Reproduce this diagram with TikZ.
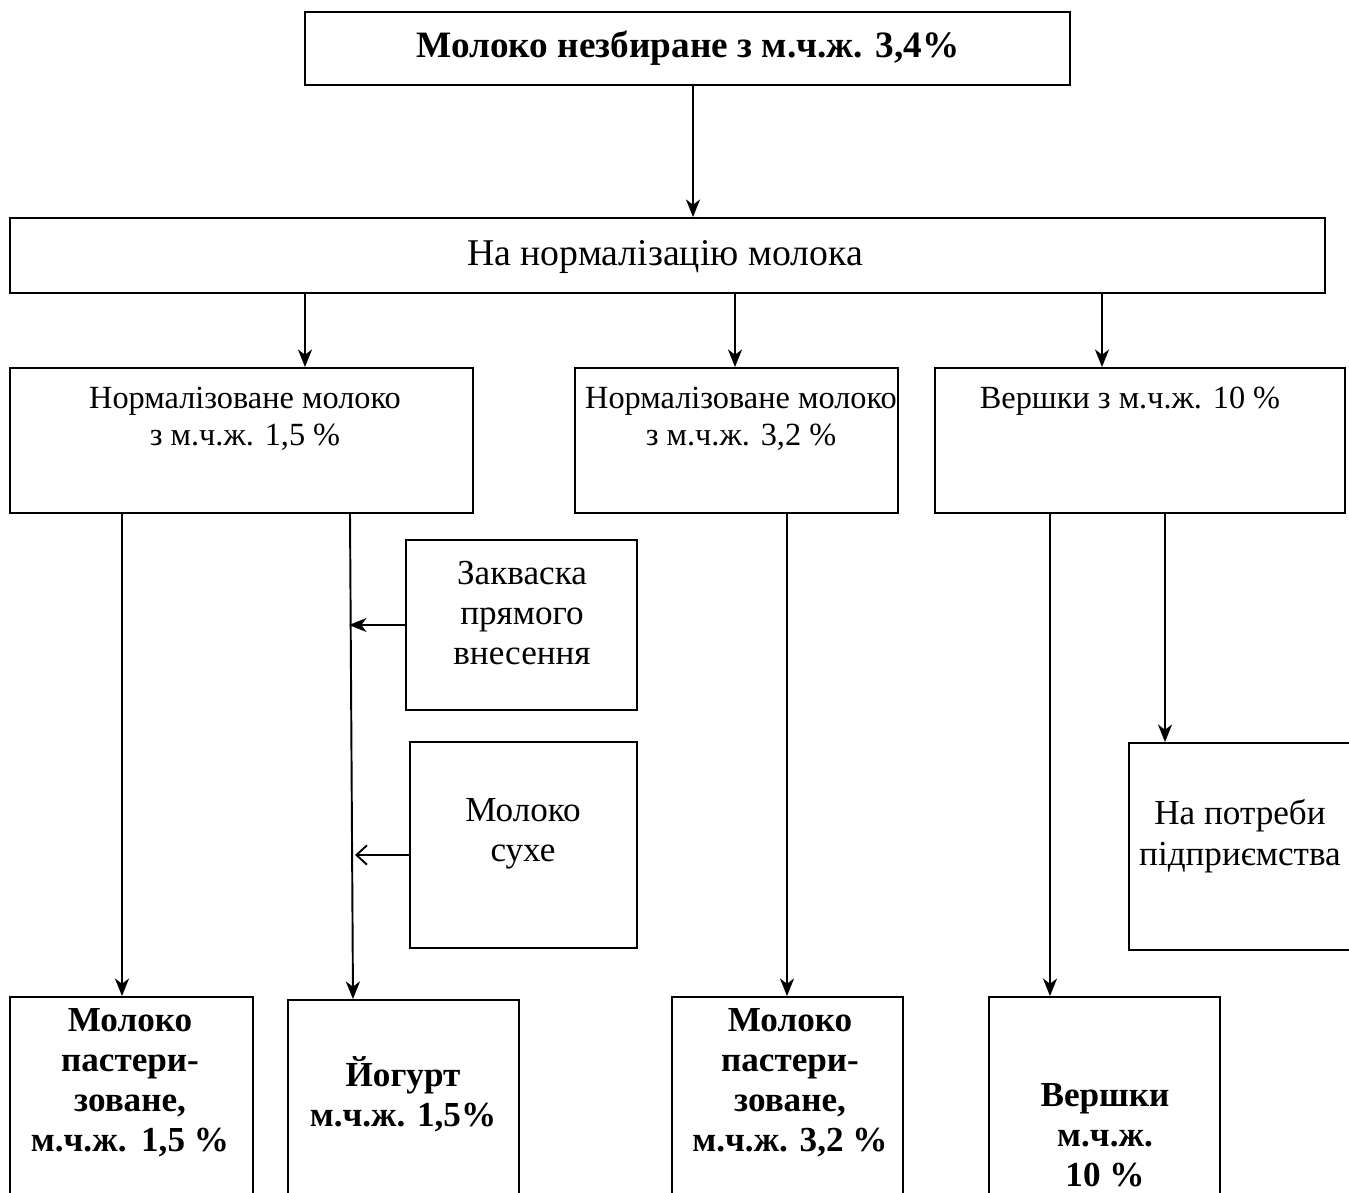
\documentclass[tikz,border=0pt]{standalone}
\usepackage{fontspec}
\setmainfont{Liberation Serif}
\usetikzlibrary{arrows.meta,fit}
\begin{document}
\begin{tikzpicture}[x=0.02cm,y=-0.02cm,
  box/.style={draw,line width=1.1pt,inner sep=0pt},
  txt/.style={align=center,inner sep=0pt,font=\fontsize{18.4}{21}\selectfont},
  mtxt/.style={align=center,inner sep=0pt,font=\fontsize{20}{23}\selectfont},
  btxt/.style={align=center,inner sep=0pt,font=\fontsize{20}{22.7}\selectfont\bfseries},
  arr/.style={line width=1.1pt,-{Stealth[length=10pt,width=8pt,inset=3pt]}},
  barb/.style={line width=1.1pt,-{Straight Barb[length=6pt,width=11pt]}}]
\useasboundingbox (0,0) rectangle (1349,1193);
\clip (0,0) rectangle (1349,1193);
% boxes
\node[box,fit={(305,12) (1070,85)}] (top) {};
\node[box,fit={(10,218) (1325,293)}] (norm) {};
\node[box,fit={(10,368) (473,513)}] (nA) {};
\node[box,fit={(575,368) (898,513)}] (nB) {};
\node[box,fit={(935,368) (1345,513)}] (nC) {};
\node[box,fit={(406,540) (637,710)}] (zak) {};
\node[box,fit={(410,742) (637,948)}] (sukh) {};
\node[box,fit={(1129,743) (1380,950)}] (potr) {};
\node[box,fit={(10,997) (253,1230)}] (p1) {};
\node[box,fit={(288,1000) (519,1230)}] (yog) {};
\node[box,fit={(672,997) (903,1230)}] (p2) {};
\node[box,fit={(989,997) (1220,1230)}] (ver) {};
% texts
\node[btxt,font=\fontsize{21.2}{24}\selectfont\bfseries] (ttop) at (688,48) {Молоко незбиране з м.ч.ж. 3,4\%};
\node[txt,font=\fontsize{21.5}{24}\selectfont] (tnorm) at (665,257) {На нормалізацію молока};
\node[txt,anchor=north] (tA) at (245,387) {Нормалізоване молоко\\з м.ч.ж. 1,5 \%};
\node[txt,anchor=north] (tB) at (741,387) {Нормалізоване молоко\\з м.ч.ж. 3,2 \%};
\node[txt,anchor=north] (tC) at (1130,387) {Вершки з м.ч.ж. 10 \%};
\node[mtxt] (tzak) at (522,613) {Закваска\\прямого\\внесення};
\node[mtxt] (tsukh) at (523,834) {Молоко\\сухе};
\node[mtxt] (tpotr) at (1240,836) {На потреби\\підприємства};
\node[btxt] (tp1) at (130,1083) {Молоко\\пастери-\\зоване,\\м.ч.ж.\ \,1,5\ \%};
\node[btxt] (tyog) at (403,1094) {Йогурт\\м.ч.ж. 1,5\%};
\node[btxt] (tp2) at (790,1083) {Молоко\\пастери-\\зоване,\\м.ч.ж. 3,2 \%};
\node[btxt] (tver) at (1105,1135) {Вершки\\м.ч.ж.\\10 \%};
% x-guides
\coordinate (x1) at (693,0);
\coordinate (x2) at (305,0);
\coordinate (x3) at (735,0);
\coordinate (x4) at (1102,0);
\coordinate (x5) at (122,0);
\coordinate (x6) at (350,0);
\coordinate (x6b) at (353,0);
\coordinate (x7) at (787,0);
\coordinate (x8) at (1050,0);
\coordinate (x9) at (1165,0);
\coordinate (yz) at (0,625);
\coordinate (ys) at (0,855);
\coordinate (xz) at (349,0);
\coordinate (xs) at (355,0);
% connectors
\draw[arr] (top.south -| x1) -- (norm.north -| x1);
\draw[arr] (norm.south -| x2) -- (nA.north -| x2);
\draw[arr] (norm.south -| x3) -- (nB.north -| x3);
\draw[arr] (norm.south -| x4) -- (nC.north -| x4);
\draw[arr] (nA.south -| x5) -- (p1.north -| x5);
\draw[arr] (nA.south -| x6) -- (yog.north -| x6b);
\draw[arr] (nB.south -| x7) -- (p2.north -| x7);
\draw[arr] (nC.south -| x8) -- (ver.north -| x8);
\draw[arr] (nC.south -| x9) -- (potr.north -| x9);
\draw[arr] (zak.west |- yz) -- (xz |- yz);
\draw[barb] (sukh.west |- ys) -- (xs |- ys);
\end{tikzpicture}
\end{document}
